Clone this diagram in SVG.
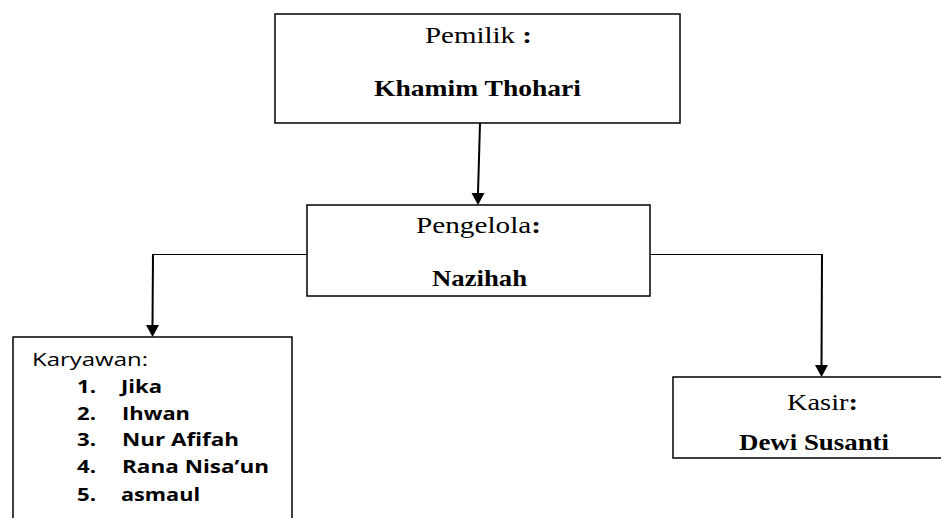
<svg xmlns="http://www.w3.org/2000/svg" width="941" height="518" viewBox="0 0 941 518">
<style>
.box{fill:#fff;stroke:#000;stroke-width:1.5}
.serif{font-family:"Liberation Serif","Times New Roman",serif;font-size:23px;fill:#000}
.b{font-weight:bold}
.sans{font-family:"Open Sans","Liberation Sans",Arial,sans-serif;font-size:18px;fill:#000}
.thin{fill:none;stroke:#000;stroke-width:1.2}
.arr{fill:none;stroke:#000;stroke-width:2}
</style>
<g id="connectors">
<path class="thin" d="M307,254.5 H153"/>
<path class="thin" d="M650,254.5 H822"/>
<path class="arr" d="M480,123 L478,193"/>
<polygon points="471.5,193 484.5,193 478,205" fill="#000"/>
<path class="arr" d="M153,254 L152.5,325"/>
<polygon points="146,325 159,325 152.5,337" fill="#000"/>
<path class="arr" d="M822,254 L821.5,365"/>
<polygon points="815,365 828,365 821.5,377" fill="#000"/>
</g>
<g id="pemilik">
<rect class="box" x="275" y="14" width="405" height="109"/>
<text class="serif" x="425" y="43" textLength="107" lengthAdjust="spacingAndGlyphs">Pemilik <tspan class="b">:</tspan></text>
<text class="serif b" x="374" y="96" textLength="207" lengthAdjust="spacingAndGlyphs">Khamim Thohari</text>
</g>
<g id="pengelola">
<rect class="box" x="307" y="205" width="343" height="91"/>
<text class="serif" x="416" y="233" textLength="125" lengthAdjust="spacingAndGlyphs">Pengelola<tspan class="b">:</tspan></text>
<text class="serif b" x="432" y="286" textLength="95" lengthAdjust="spacingAndGlyphs">Nazihah</text>
</g>
<g id="karyawan">
<rect class="box" x="13" y="337" width="279" height="200"/>
<text class="sans" x="32" y="366" textLength="116" lengthAdjust="spacingAndGlyphs">Karyawan:</text>
<g class="sans b">
<text x="77" y="393" textLength="19" lengthAdjust="spacingAndGlyphs">1.</text><text x="121" y="393" textLength="41" lengthAdjust="spacingAndGlyphs">Jika</text>
<text x="77" y="420" textLength="19" lengthAdjust="spacingAndGlyphs">2.</text><text x="122" y="420" textLength="68" lengthAdjust="spacingAndGlyphs">Ihwan</text>
<text x="77" y="446" textLength="19" lengthAdjust="spacingAndGlyphs">3.</text><text x="122" y="446" textLength="117" lengthAdjust="spacingAndGlyphs">Nur Afifah</text>
<text x="77" y="473" textLength="19" lengthAdjust="spacingAndGlyphs">4.</text><text x="122" y="473" textLength="147" lengthAdjust="spacingAndGlyphs">Rana Nisa’un</text>
<text x="77" y="501" textLength="19" lengthAdjust="spacingAndGlyphs">5.</text><text x="121" y="501" textLength="79" lengthAdjust="spacingAndGlyphs">asmaul</text>
</g>
</g>
<g id="kasir">
<rect class="box" x="673" y="377" width="300" height="81"/>
<text class="serif" x="787" y="410" textLength="71" lengthAdjust="spacingAndGlyphs">Kasir<tspan class="b">:</tspan></text>
<text class="serif b" x="739" y="450" textLength="150" lengthAdjust="spacingAndGlyphs">Dewi Susanti</text>
</g>
</svg>
